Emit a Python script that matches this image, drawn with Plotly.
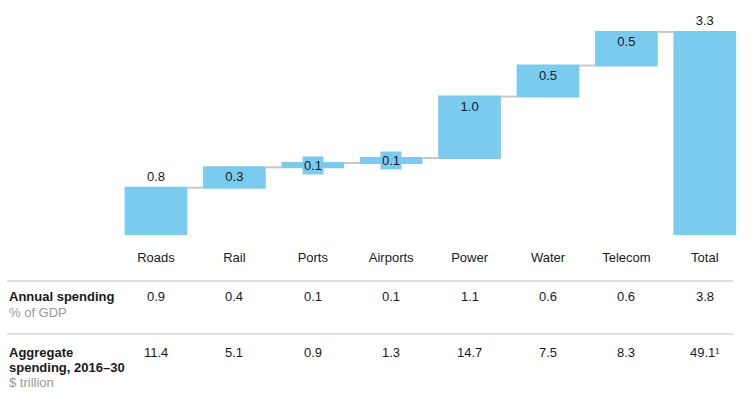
import plotly.graph_objects as go

# ---- data ----
categories = ["Roads", "Rail", "Ports", "Airports", "Power", "Water", "Telecom", "Total"]
increments = [0.76, 0.33, 0.07, 0.08, 0.99, 0.50, 0.54]  # % of GDP, bar heights
annual_spending = ["0.9", "0.4", "0.1", "0.1", "1.1", "0.6", "0.6", "3.8"]
aggregate_spending = ["11.4", "5.1", "0.9", "1.3", "14.7", "7.5", "8.3", "49.1¹"]

# ---- styling ----
W, H = 756, 394
FONT = "Arial, 'Liberation Sans', sans-serif"
BAR = "#7acbee"
DARK = "#1a1a1a"
GREY = "#9a9a9a"
PLOT_BOTTOM = 235  # px
total = sum(increments)

def py(p):
    return 1 - p / H

def px(p):
    return p / W

measures = ["relative"] * len(increments) + ["total"]
yvals = increments + [None]
labels_all = [f"{v:.1f}" for v in increments] + [f"{total:.1f}"]
heights = increments + [total]

THIN = 0.2
texts = []
positions = []
for i, v in enumerate(heights):
    if v < THIN:
        texts.append("")
        positions.append("none")
    elif i == 0 or i == len(heights) - 1:
        texts.append(labels_all[i])
        positions.append("outside")
    else:
        texts.append(labels_all[i])
        positions.append("inside")

fig = go.Figure(go.Waterfall(
    x=categories,
    y=yvals,
    measure=measures,
    text=texts,
    textposition=positions,
    textfont=dict(family=FONT, size=13, color=DARK),
    insidetextfont=dict(family=FONT, size=13, color=DARK),
    outsidetextfont=dict(family=FONT, size=13, color=DARK),
    constraintext="none",
    cliponaxis=False,
    increasing=dict(marker=dict(color=BAR, line=dict(width=0))),
    totals=dict(marker=dict(color=BAR, line=dict(width=0))),
    decreasing=dict(marker=dict(color=BAR, line=dict(width=0))),
    connector=dict(line=dict(color="#c8c8c8", width=2), mode="between"),
    hoverinfo="skip",
))

annotations = []
# labels for thin bars, with a bar-coloured box
cum = 0.0
for i, v in enumerate(increments):
    if v < THIN:
        annotations.append(dict(
            x=categories[i], xref="x", y=cum + v / 2, yref="y",
            text=labels_all[i], showarrow=False,
            font=dict(family=FONT, size=13, color=DARK),
            bgcolor=BAR, borderpad=1, xanchor="center", yanchor="middle",
        ))
    cum += v

# table rows
for cat, a, g in zip(categories, annual_spending, aggregate_spending):
    annotations.append(dict(x=cat, xref="x", y=py(296), yref="paper", text=a,
                            showarrow=False, font=dict(family=FONT, size=13, color=DARK),
                            xanchor="center", yanchor="middle"))
    annotations.append(dict(x=cat, xref="x", y=py(352), yref="paper", text=g,
                            showarrow=False, font=dict(family=FONT, size=13, color=DARK),
                            xanchor="center", yanchor="middle"))

row_labels = [
    ("<b>Annual spending</b>", 296, DARK),
    ("% of GDP", 312, GREY),
    ("<b>Aggregate</b>", 352, DARK),
    ("<b>spending, 2016–30</b>", 367, DARK),
    ("$ trillion", 382, GREY),
]
for t, y, c in row_labels:
    annotations.append(dict(x=px(7), xref="paper", y=py(y), yref="paper", text=t,
                            showarrow=False, font=dict(family=FONT, size=13, color=c),
                            xanchor="left", yanchor="middle"))

shapes = []
for yl in (281, 334):
    shapes.append(dict(type="line", xref="paper", yref="paper",
                       x0=px(7), x1=px(733), y0=py(yl), y1=py(yl),
                       line=dict(color="#d3d3d3", width=1.5)))

fig.update_layout(
    width=W, height=H,
    margin=dict(l=0, r=0, t=0, b=0),
    paper_bgcolor="white", plot_bgcolor="white",
    showlegend=False,
    bargap=0.235,
    font=dict(family=FONT, size=13, color=DARK),
    xaxis=dict(domain=[px(116.8), px(744)], showgrid=False, showline=False,
               zeroline=False, ticks="", tickfont=dict(family=FONT, size=13, color=DARK),
               ticklabelstandoff=13, fixedrange=True),
    yaxis=dict(domain=[py(PLOT_BOTTOM), 1], range=[0, total * PLOT_BOTTOM / 203],
               visible=False, fixedrange=True),
    annotations=annotations,
    shapes=shapes,
)

fig.write_html("out.html",
               config={"displayModeBar": False, "staticPlot": True},
               post_script="document.body.style.margin='0';document.body.style.overflow='hidden';")
